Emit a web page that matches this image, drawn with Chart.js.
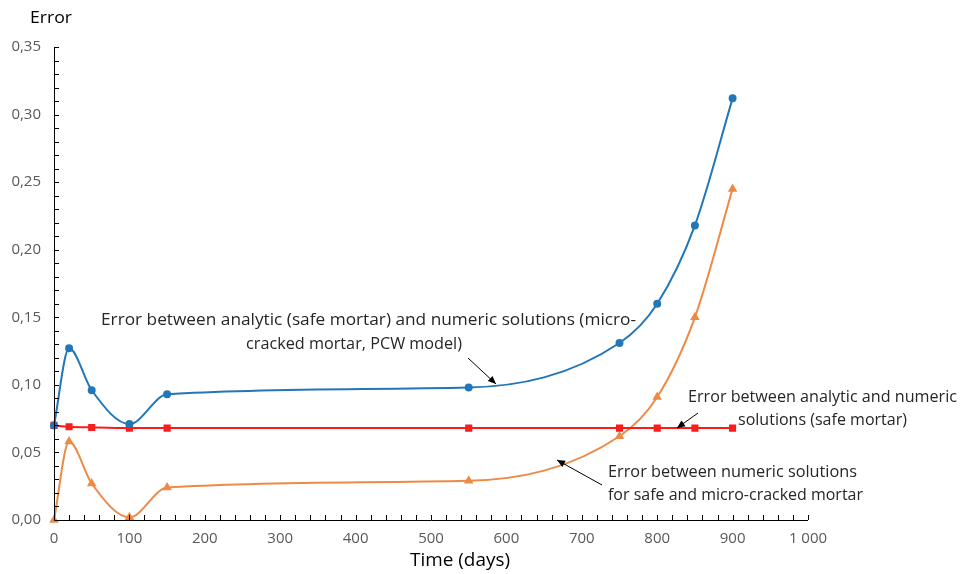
<!DOCTYPE html>
<html>
<head>
<meta charset="utf-8">
<script src="https://cdn.jsdelivr.net/npm/chart.js@4"></script>
<style>
html,body{margin:0;padding:0;background:#fff;}
#wrap{width:960px;height:574px;position:relative;}
</style>
</head>
<body>
<div id="wrap"><canvas id="c" width="960" height="574"></canvas></div>
<script>
const days = [0, 20, 50, 100, 150, 550, 750, 800, 850, 900];
const errAnalyticCracked = [0.070, 0.127, 0.096, 0.071, 0.093, 0.098, 0.131, 0.160, 0.218, 0.312];
const errAnalyticSafe = [0.070, 0.069, 0.0685, 0.068, 0.068, 0.068, 0.068, 0.068, 0.068, 0.068];
const errNumeric = [0.000, 0.058, 0.027, 0.002, 0.024, 0.029, 0.062, 0.091, 0.150, 0.245];
const yTicks = [0, 0.05, 0.10, 0.15, 0.20, 0.25, 0.30, 0.35];
const xTicks = [0, 100, 200, 300, 400, 500, 600, 700, 800, 900, 1000];
const yTitle = 'Error';
const xTitle = 'Time (days)';
const notes = [
  {lines: ['Error between analytic (safe mortar) and numeric solutions (micro-', 'cracked mortar, PCW model)'], tx: [101, 246], tw: [535, 216], ty: [320, 344], arrow: [468, 358, 496, 384]},
  {lines: ['Error between analytic and numeric', 'solutions (safe mortar)'], tx: [688, 738], tw: [269, 169], ty: [397, 420], arrow: [698, 413, 677, 428]},
  {lines: ['Error between numeric solutions', 'for safe and micro-cracked mortar'], tx: [608, 608], tw: [249, 255], ty: [472, 495], arrow: [602, 485, 557, 460]}
];

const toPts = (ys) => days.map((d, i) => ({x: d, y: ys[i]}));

function fitText(ctx, t, x, y, w) {
  const m = ctx.measureText(t).width;
  ctx.save();
  ctx.translate(x, y);
  ctx.scale(w / m, 1);
  ctx.fillText(t, 0, 0);
  ctx.restore();
}

const decorPlugin = {
  id: 'decor',
  afterDatasetsDraw(chart) {
    const ctx = chart.ctx;
    const xs = chart.scales.x, ys = chart.scales.y;
    const left = xs.left, bottom = ys.bottom, top = ys.top, right = xs.right;
    ctx.save();
    ctx.strokeStyle = '#000';
    ctx.lineWidth = 1;
    ctx.beginPath();
    ctx.moveTo(Math.round(left) + 0.5, top);
    ctx.lineTo(Math.round(left) + 0.5, Math.round(bottom) + 0.5);
    ctx.lineTo(right, Math.round(bottom) + 0.5);
    for (let k = 1; k <= 35; k++) {
      const py = Math.round(ys.getPixelForValue(k / 100)) + 0.5;
      ctx.moveTo(Math.round(left), py);
      ctx.lineTo(Math.round(left) + 5, py);
    }
    for (let k = 1; k <= 50; k++) {
      const px = Math.round(xs.getPixelForValue(k * 20)) + 0.5;
      ctx.moveTo(px, Math.round(bottom));
      ctx.lineTo(px, Math.round(bottom) - 5);
    }
    ctx.stroke();

    ctx.fillStyle = '#000';
    ctx.textBaseline = 'middle';
    ctx.textAlign = 'left';
    ctx.font = '17px "Open Sans"';
    fitText(ctx, yTitle, 30, 18, 42);
    ctx.font = '18px "Open Sans"';
    fitText(ctx, xTitle, 410, 561, 100);

    ctx.fillStyle = '#262626';
    ctx.font = '16px "Open Sans"';
    notes.forEach(n => {
      n.lines.forEach((t, i) => fitText(ctx, t, n.tx[i], n.ty[i], n.tw[i]));
      const [x1, y1, x2, y2] = n.arrow;
      ctx.strokeStyle = '#000';
      ctx.lineWidth = 1;
      ctx.beginPath();
      ctx.moveTo(x1, y1);
      ctx.lineTo(x2, y2);
      ctx.stroke();
      const ang = Math.atan2(y2 - y1, x2 - x1);
      const L = 8, W = 3.5;
      ctx.beginPath();
      ctx.moveTo(x2, y2);
      ctx.lineTo(x2 - L * Math.cos(ang) + W * Math.sin(ang), y2 - L * Math.sin(ang) - W * Math.cos(ang));
      ctx.lineTo(x2 - L * Math.cos(ang) - W * Math.sin(ang), y2 - L * Math.sin(ang) + W * Math.cos(ang));
      ctx.closePath();
      ctx.fillStyle = '#000';
      ctx.fill();
      ctx.fillStyle = '#262626';
    });
    ctx.restore();
  }
};

new Chart(document.getElementById('c'), {
  type: 'line',
  data: {
    datasets: [
      {
        label: 'Analytic (safe) vs numeric (micro-cracked, PCW)',
        data: toPts(errAnalyticCracked),
        borderColor: '#2277b8', backgroundColor: '#2277b8',
        borderWidth: 2, pointStyle: 'circle', pointRadius: 3,
        cubicInterpolationMode: 'monotone', clip: false
      },
      {
        label: 'Analytic vs numeric (safe)',
        data: toPts(errAnalyticSafe),
        borderColor: '#ff1a1a', backgroundColor: '#e8262a',
        borderWidth: 2, pointStyle: 'rect', pointRadius: 3.6,
        cubicInterpolationMode: 'monotone', clip: false
      },
      {
        label: 'Numeric safe vs micro-cracked',
        data: toPts(errNumeric),
        borderColor: '#ed8a45', backgroundColor: '#ed8a45',
        borderWidth: 2, pointStyle: 'triangle', pointRadius: 3.5,
        cubicInterpolationMode: 'monotone', clip: false
      }
    ]
  },
  options: {
    responsive: false,
    animation: false,
    layout: {padding: {top: 47, right: 152, left: 0, bottom: 0}},
    plugins: {legend: {display: false}, tooltip: {enabled: false}},
    scales: {
      x: {
        type: 'linear', min: 0, max: 1000,
        afterBuildTicks: (s) => { s.ticks = xTicks.map(v => ({value: v})); },
        afterFit: (s) => { s.height = 54; },
        grid: {display: false, drawTicks: false},
        border: {display: false},
        ticks: {
          padding: 10, color: '#595959', font: {family: 'Open Sans', size: 15},
          maxRotation: 0, autoSkip: false,
          callback: (v) => v === 1000 ? '1 000' : String(v)
        }
      },
      y: {
        min: 0, max: 0.35,
        afterBuildTicks: (s) => { s.ticks = yTicks.map(v => ({value: v})); },
        afterFit: (s) => { s.width = 54; },
        grid: {display: false, drawTicks: false},
        border: {display: false},
        ticks: {
          padding: 13, color: '#595959', font: {family: 'Open Sans', size: 15},
          callback: (v) => v.toFixed(2).replace('.', ',')
        }
      }
    }
  },
  plugins: [decorPlugin]
});
</script>
</body>
</html>
